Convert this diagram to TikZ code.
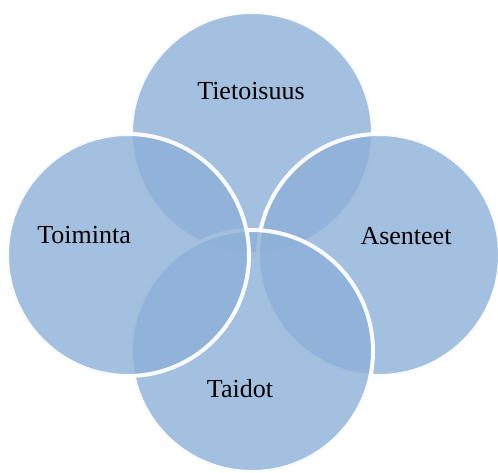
\documentclass[tikz,border=0pt]{standalone}
\usepackage{fontspec}
\setmainfont{Liberation Serif}
\definecolor{ringblue}{RGB}{141,176,216}
\tikzset{
  ring/.style={circle,minimum size=242pt,inner sep=0pt,fill=ringblue,fill opacity=0.8,draw=white,draw opacity=0.95,line width=4pt},
  ringlabel/.style={anchor=base,font=\fontsize{26}{30}\selectfont,text=black}
}
\begin{document}
\begin{tikzpicture}[x=1pt,y=-1pt]
\useasboundingbox (0,0) rectangle (498,472);
\node[ring] (tieto) at (252,133) {};
\node[ring] (asenne) at (379,255) {};
\node[ring] (taito) at (252,351) {};
\node[ring] (toimi) at (128,255) {};
\node[ringlabel] (ltieto) at (251,99) {Tietoisuus};
\node[ringlabel] (lasenne) at (406,244) {Asenteet};
\node[ringlabel] (ltaito) at (240,397) {Taidot};
\node[ringlabel] (ltoimi) at (84,243) {Toiminta};
\end{tikzpicture}
\end{document}
